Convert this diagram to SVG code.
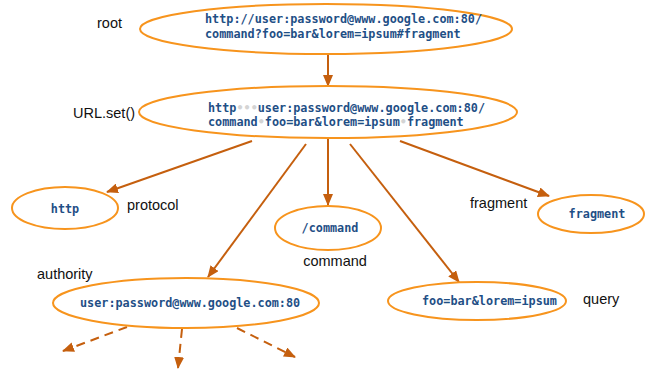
<svg xmlns="http://www.w3.org/2000/svg" width="652" height="372" viewBox="0 0 652 372">
<defs>
<marker id="ah" viewBox="0 0 12 10" refX="11" refY="5" markerWidth="12" markerHeight="10" markerUnits="userSpaceOnUse" orient="auto">
<path d="M0,0 L12,5 L0,10 Z" fill="#c55f0e"/>
</marker>
<style>
.n{fill:#fff;stroke:#f7941d;stroke-width:2}
.c{font-family:"DejaVu Sans Mono",monospace;font-weight:bold;font-size:11.8px;fill:#1f4f86}
.l{font-family:"Liberation Sans",Arial,sans-serif;font-size:14.5px;fill:#111}
.e{stroke:#c55f0e;stroke-width:2;fill:none;marker-end:url(#ah)}
.d{stroke-dasharray:9,6}
.g{fill:#d4d4d4}
</style>
</defs>
<rect width="652" height="372" fill="#fff"/>
<g id="connectors">
<line class="e" x1="328" y1="55" x2="328" y2="86"/>
<line class="e" x1="252" y1="141" x2="107" y2="192"/>
<line class="e" x1="306" y1="144" x2="208" y2="277"/>
<line class="e" x1="328" y1="138" x2="328" y2="205"/>
<line class="e" x1="350" y1="144" x2="459" y2="282"/>
<line class="e" x1="400" y1="141" x2="549" y2="196"/>
<line class="e d" x1="127" y1="327" x2="63" y2="351"/>
<line class="e d" x1="182" y1="329" x2="178" y2="368"/>
<line class="e d" x1="237" y1="328" x2="295" y2="357"/>
</g>
<g id="root">
<ellipse class="n" cx="326" cy="29" rx="186" ry="25"/>
<text class="c" x="205" y="23">http://user:password@www.google.com:80/</text>
<text class="c" x="205" y="38">command?foo=bar&amp;lorem=ipsum#fragment</text>
<text class="l" x="97" y="28">root</text>
</g>
<g id="urlset">
<ellipse class="n" cx="328" cy="112" rx="189" ry="26"/>
<text class="c" x="208" y="112">http<tspan class="g">•••</tspan>user:password@www.google.com:80/</text>
<text class="c" x="208" y="126">command<tspan class="g">•</tspan>foo=bar&amp;lorem=ipsum<tspan class="g">•</tspan>fragment</text>
<text class="l" x="73" y="118">URL.set()</text>
</g>
<g id="protocol">
<ellipse class="n" cx="65" cy="208" rx="53" ry="21"/>
<text class="c" x="65" y="213" text-anchor="middle">http</text>
<text class="l" x="127" y="210">protocol</text>
</g>
<g id="command">
<ellipse class="n" cx="328" cy="228" rx="53" ry="22"/>
<text class="c" x="330" y="232" text-anchor="middle">/command</text>
<text class="l" x="335" y="266" text-anchor="middle">command</text>
</g>
<g id="fragment">
<ellipse class="n" cx="591" cy="214" rx="53" ry="19"/>
<text class="c" x="597" y="218" text-anchor="middle">fragment</text>
<text class="l" x="470" y="208">fragment</text>
</g>
<g id="authority">
<ellipse class="n" cx="186" cy="303" rx="133" ry="25"/>
<text class="c" x="80" y="307">user:password@www.google.com:80</text>
<text class="l" x="37" y="279">authority</text>
</g>
<g id="query">
<ellipse class="n" cx="477" cy="301" rx="89" ry="19"/>
<text class="c" x="422" y="305">foo=bar&amp;lorem=ipsum</text>
<text class="l" x="583" y="304">query</text>
</g>
</svg>
